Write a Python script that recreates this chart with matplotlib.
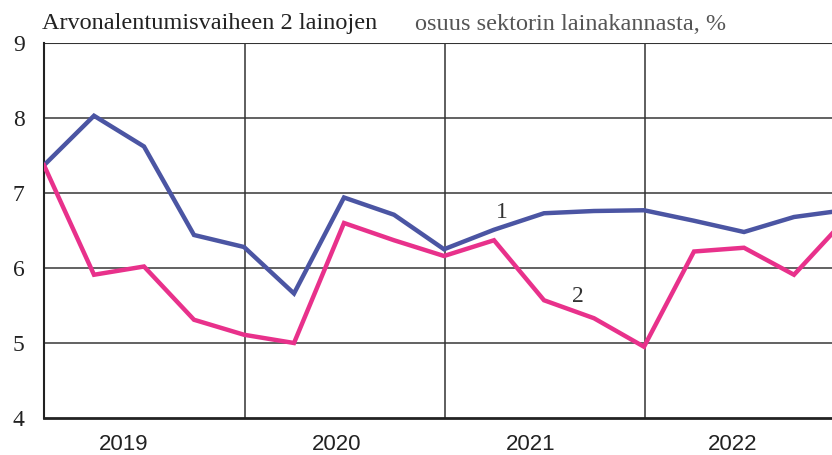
import matplotlib
matplotlib.use("Agg")
import matplotlib.pyplot as plt
import numpy as np

# quarterly data, 2019Q1 ... 2023Q1 (last point clipped at the right edge)
sarja1 = [7.37, 8.03, 7.62, 6.44, 6.28, 5.66, 6.94, 6.71, 6.25, 6.51, 6.73, 6.76,
          6.77, 6.63, 6.48, 6.68, 6.77]
sarja2 = [7.37, 5.91, 6.02, 5.31, 5.11, 5.00, 6.60, 6.37, 6.16, 6.37, 5.57, 5.33,
          4.95, 6.22, 6.27, 5.91, 6.63]
vuodet = ["2019", "2020", "2021", "2022"]
vuosi_x = [1.6, 5.86, 9.74, 13.78]   # label positions in quarter units

serif = ["Liberation Serif", "DejaVu Serif"]
sans = ["Liberation Sans", "DejaVu Sans"]

fig = plt.figure(figsize=(8.32, 4.55), dpi=100)
ax = fig.add_axes([44 / 832, 1 - 418 / 455, 1 - 44 / 832, 375 / 455])

x = np.arange(len(sarja1))
ax.plot(x, sarja1, color="#4b55a3", lw=3.2, solid_joinstyle="miter", zorder=3)
ax.plot(x, sarja2, color="#e8318b", lw=3.2, solid_joinstyle="miter", zorder=3)

ax.set_xlim(0, 788 / 50)
ax.set_ylim(4, 9)

# grid
for yv in [5, 6, 7, 8]:
    ax.axhline(yv, color="#555555", lw=1.3, zorder=1)
ax.axhline(9, color="#333333", lw=1.5, zorder=1)
for xv in [4, 8, 12]:
    ax.axvline(xv + 0.02, color="#333333", lw=1.1, zorder=1)

for s in ["top", "right"]:
    ax.spines[s].set_visible(False)
ax.spines["left"].set_color("#222222")
ax.spines["left"].set_linewidth(1.5)
ax.spines["bottom"].set_color("#222222")
ax.spines["bottom"].set_linewidth(2)

ax.set_yticks([4, 5, 6, 7, 8, 9])
ax.set_yticklabels(["4", "5", "6", "7", "8", "9"], family=serif, fontsize=17,
                   color="#222222")
ax.tick_params(axis="y", length=0, pad=14)
ax.set_xticks([])

for xv, lab in zip(vuosi_x, vuodet):
    ax.text(xv, 3.65, lab, ha="center", va="center", family=sans,
            fontsize=16, color="#222222")

ax.text(9.16, 6.74, "1", ha="center", va="center", family=serif, fontsize=17,
        color="#333333")
ax.text(10.68, 5.62, "2", ha="center", va="center", family=serif, fontsize=17,
        color="#333333")

fig.text(42 / 832, 1 - 24 / 455, "Arvonalentumisvaiheen 2 lainojen", family=serif,
         fontsize=17.5, color="#222222", va="center", ha="left")
fig.text(415 / 832, 1 - 24 / 455, "osuus sektorin lainakannasta, %", family=serif,
         fontsize=17.5, color="#555555", va="center", ha="left")

fig.savefig("out.png", dpi=100)
